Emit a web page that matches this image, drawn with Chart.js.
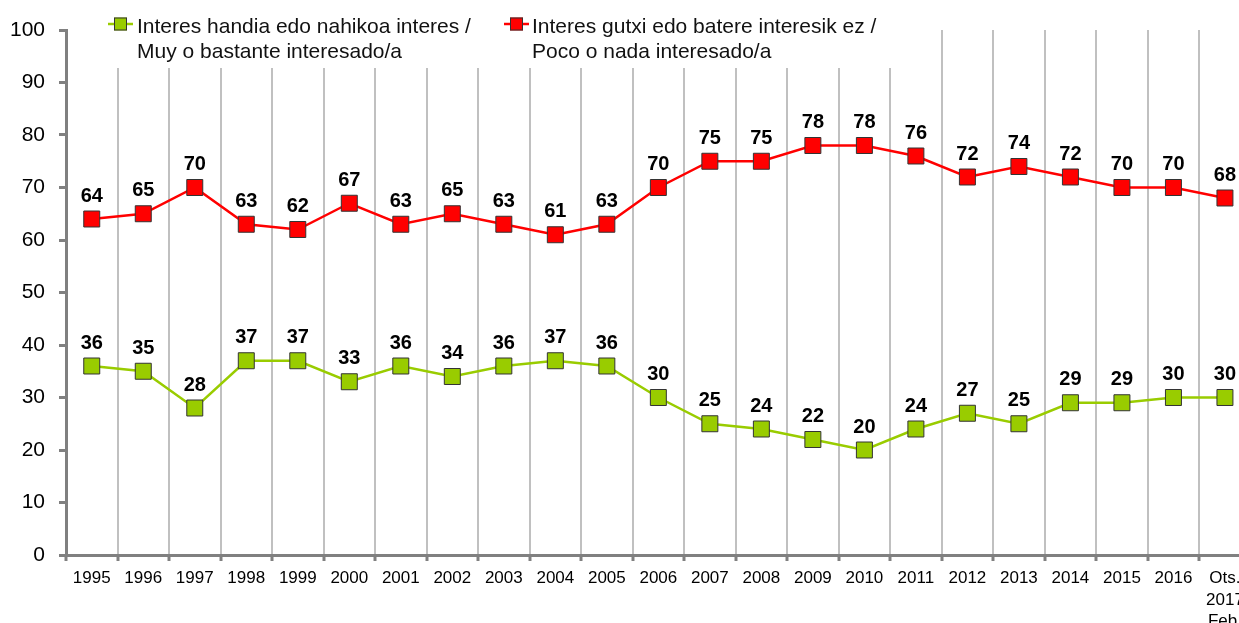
<!DOCTYPE html>
<html>
<head>
<meta charset="utf-8">
<title>Interes handia / gutxi</title>
<script src="https://cdn.jsdelivr.net/npm/chart.js@4/dist/chart.umd.min.js"></script>
<style>
  html, body { margin: 0; padding: 0; background: #fff; overflow: hidden; }
  #wrap { width: 1263px; height: 623px; }
</style>
</head>
<body>
<div id="wrap"><canvas id="chart" width="1263" height="623"></canvas></div>
<script>
// Survey years (last one is February 2017)
const categories = ['1995','1996','1997','1998','1999','2000','2001','2002','2003','2004',
  '2005','2006','2007','2008','2009','2010','2011','2012','2013','2014','2015','2016',
  ['Ots.','2017','Feb.']];

// Much / fairly interested (%)
const interested = [36,35,28,37,37,33,36,34,36,37,36,30,25,24,22,20,24,27,25,29,29,30,30];

// Little / not at all interested (%)
const notInterested = [64,65,70,63,62,67,63,65,63,61,63,70,75,75,78,78,76,72,74,72,70,70,68];

const legendLabels = [
  ['Interes handia edo nahikoa interes /', 'Muy o bastante interesado/a'],
  ['Interes gutxi edo batere interesik ez /', 'Poco o nada interesado/a']
];

const yTicks = [0,10,20,30,40,50,60,70,80,90,100];

const GREEN = '#99cc00';
const RED = '#ff0000';
const AXIS = '#808080';
const FONT = "'Liberation Sans', Arial, sans-serif";

// Legend panel drawn over the top of the plot, hiding the grid lines behind it
const legendPanel = {
  id: 'legendPanel',
  beforeDatasetsDraw(chart) {
    const ctx = chart.ctx;
    ctx.save();
    ctx.fillStyle = '#ffffff';
    ctx.fillRect(78, 4, 828, 64);
    const items = [
      { lineX: 108, textX: 137, color: GREEN },
      { lineX: 504, textX: 532, color: RED }
    ];
    items.forEach((it, i) => {
      const y = 24;
      ctx.strokeStyle = it.color;
      ctx.lineWidth = 2.5;
      ctx.beginPath();
      ctx.moveTo(it.lineX, y);
      ctx.lineTo(it.lineX + 25, y);
      ctx.stroke();
      ctx.fillStyle = it.color;
      ctx.strokeStyle = '#333333';
      ctx.lineWidth = 1;
      ctx.fillRect(it.lineX + 6, y - 6.5, 13, 13);
      ctx.strokeRect(it.lineX + 6.5, y - 6, 12, 12);
      ctx.fillStyle = '#111111';
      ctx.font = '21px ' + FONT;
      ctx.textAlign = 'left';
      ctx.textBaseline = 'alphabetic';
      ctx.fillText(legendLabels[i][0], it.textX, 33);
      ctx.fillText(legendLabels[i][1], it.textX, 58);
    });
    ctx.restore();
  }
};

// Value labels above every marker
const valueLabels = {
  id: 'valueLabels',
  afterDatasetsDraw(chart) {
    const ctx = chart.ctx;
    ctx.save();
    ctx.font = 'bold 20px ' + FONT;
    ctx.fillStyle = '#000000';
    ctx.textAlign = 'center';
    ctx.textBaseline = 'middle';
    chart.data.datasets.forEach((ds, di) => {
      chart.getDatasetMeta(di).data.forEach((pt, i) => {
        ctx.fillText(String(ds.data[i]), pt.x, pt.y - 23);
      });
    });
    ctx.restore();
  }
};

new Chart(document.getElementById('chart'), {
  type: 'line',
  data: {
    labels: categories,
    datasets: [
      {
        label: legendLabels[0].join(' '),
        data: interested,
        borderColor: GREEN,
        backgroundColor: GREEN,
        borderWidth: 2.5,
        pointStyle: 'rect',
        pointRadius: 11.3,
        pointHoverRadius: 11.3,
        pointBackgroundColor: GREEN,
        pointBorderColor: '#333333',
        pointBorderWidth: 1,
        tension: 0
      },
      {
        label: legendLabels[1].join(' '),
        data: notInterested,
        borderColor: RED,
        backgroundColor: RED,
        borderWidth: 2.5,
        pointStyle: 'rect',
        pointRadius: 11.3,
        pointHoverRadius: 11.3,
        pointBackgroundColor: RED,
        pointBorderColor: '#333333',
        pointBorderWidth: 1,
        tension: 0
      }
    ]
  },
  options: {
    responsive: false,
    animation: false,
    devicePixelRatio: 1,
    layout: { padding: { top: 30, left: 0, right: 1, bottom: 0 } },
    plugins: {
      legend: { display: false },
      tooltip: { enabled: false }
    },
    scales: {
      x: {
        type: 'category',
        offset: true,
        grid: {
          offset: true,
          color: '#c0c0c0',
          lineWidth: 2,
          drawOnChartArea: true,
          drawTicks: true,
          tickLength: 6,
          tickColor: AXIS,
          tickWidth: 3
        },
        border: { display: true, color: AXIS, width: 3 },
        ticks: {
          color: '#000000',
          font: { family: FONT, size: 17, lineHeight: 1.25 },
          padding: 7,
          maxRotation: 0,
          autoSkip: false
        },
        afterFit(scale) { scale.height = 68; }
      },
      y: {
        min: 0,
        max: 100,
        afterBuildTicks(scale) { scale.ticks = yTicks.map(v => ({ value: v })); },
        grid: {
          drawOnChartArea: false,
          drawTicks: true,
          tickLength: 7,
          tickColor: AXIS,
          tickWidth: 3
        },
        border: { display: true, color: AXIS, width: 3 },
        ticks: {
          color: '#000000',
          font: { family: FONT, size: 21 },
          padding: 14
        },
        afterFit(scale) { scale.width = 66; }
      }
    }
  },
  plugins: [legendPanel, valueLabels]
});
</script>
</body>
</html>
